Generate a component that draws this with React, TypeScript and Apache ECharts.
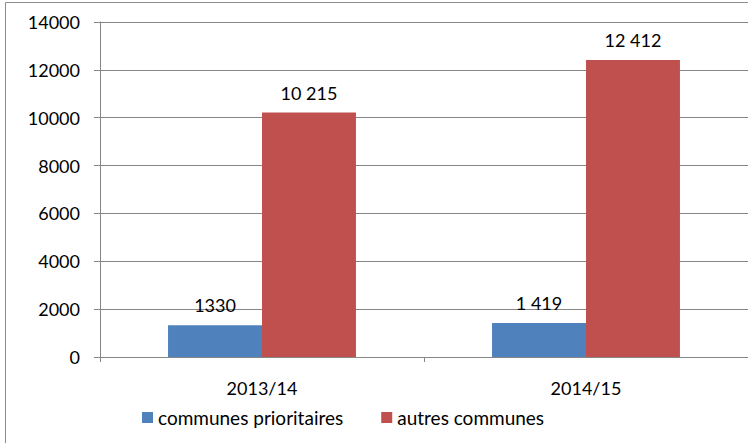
import React, { useEffect, useRef } from "react";
import * as echarts from "echarts";

const categories = ["2013/14", "2014/15"];
const prioritaires = [1330, 1419];
const autres = [10215, 12412];
const prioritairesLabels = ["1330", "1 419"];
const autresLabels = ["10 215", "12 412"];
const seriesNames = ["communes prioritaires", "autres communes"];

const FONT = "Lato, 'Open Sans', sans-serif";
const FS = 18;

export default function App() {
  const ref = useRef<HTMLDivElement>(null);
  useEffect(() => {
    if (!ref.current) return;
    const chart = echarts.init(ref.current, undefined, { renderer: "svg" });
    chart.setOption({
      animation: false,
      textStyle: { fontFamily: FONT },
      graphic: [
        {
          type: "rect",
          shape: { x: 5.5, y: 2.5, width: 800, height: 600 },
          style: { fill: "none", stroke: "#8c8c8c", lineWidth: 1 },
          silent: true,
        },
      ],
      grid: { left: 100, top: 22, width: 655, bottom: 86, containLabel: false },
      legend: {
        data: seriesNames,
        left: 137,
        top: 403,
        itemWidth: 11,
        itemHeight: 11,
        itemGap: 38,
        icon: "rect",
        textStyle: { fontFamily: FONT, fontSize: FS + 1, color: "#000" },
      },
      xAxis: {
        type: "category",
        data: categories,
        axisLine: { lineStyle: { color: "#868686", width: 1 } },
        axisTick: { show: true, length: 5, lineStyle: { color: "#868686" } },
        axisLabel: { fontFamily: FONT, fontSize: FS, color: "#000", margin: 22 },
      },
      yAxis: {
        type: "value",
        min: 0,
        max: 14000,
        interval: 2000,
        axisLine: { show: true, lineStyle: { color: "#868686", width: 1 } },
        axisTick: { show: true, length: 6, lineStyle: { color: "#868686" } },
        splitLine: { lineStyle: { color: "#868686", width: 1 } },
        axisLabel: {
          fontFamily: FONT,
          fontSize: FS,
          color: "#000",
          margin: 20,
          formatter: (v: number) => String(v),
        },
      },
      series: [
        {
          name: seriesNames[0],
          type: "bar",
          data: prioritaires,
          itemStyle: { color: "#4f81bd" },
          barGap: "0%",
          barCategoryGap: "42%",
          label: {
            show: true,
            position: "top",
            distance: 11,
            fontFamily: FONT,
            fontSize: FS,
            color: "#000",
            formatter: (p: any) => prioritairesLabels[p.dataIndex],
          },
        },
        {
          name: seriesNames[1],
          type: "bar",
          data: autres,
          itemStyle: { color: "#c0504d" },
          barGap: "0%",
          barCategoryGap: "42%",
          label: {
            show: true,
            position: "top",
            distance: 11,
            fontFamily: FONT,
            fontSize: FS,
            color: "#000",
            formatter: (p: any) => autresLabels[p.dataIndex],
          },
        },
      ],
    });
    return () => chart.dispose();
  }, []);
  return (
    <div
      ref={ref}
      style={{ position: "fixed", left: 0, top: 0, width: 748, height: 443, background: "#fff" }}
    />
  );
}
